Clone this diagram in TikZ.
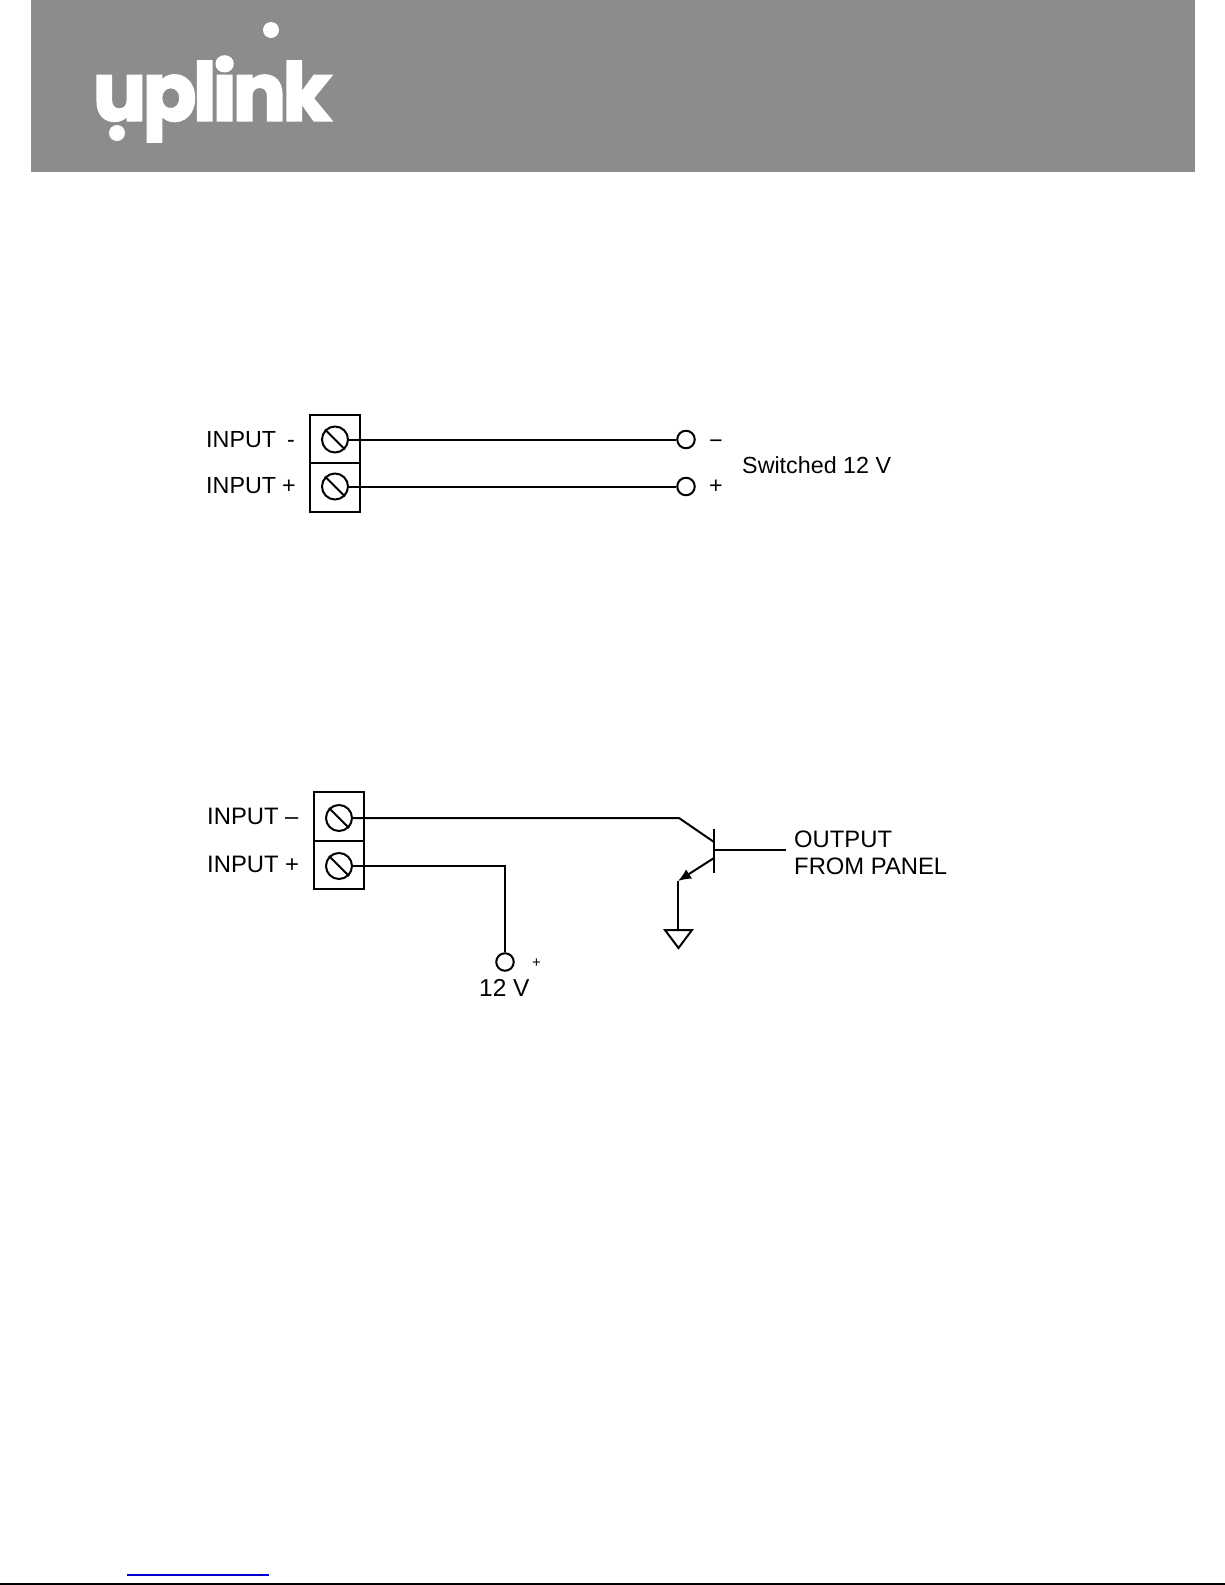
\documentclass[tikz,border=0pt]{standalone}
\usepackage{fontspec}
\usepackage{tikz}
\usetikzlibrary{positioning,arrows.meta,arrows}
\setmainfont{Liberation Sans}
\newfontfamily\logofont[FakeBold=3,LetterSpace=-4]{Poppins Bold}
\definecolor{bannergray}{HTML}{8C8C8C}

\begin{document}
\begin{tikzpicture}[>=latex, x=1pt, y=-1pt]
\tikzset{
termbox/.style={
  draw,
  line width=2pt,
  minimum width=50pt,
  minimum height=48.5pt,
  inner sep=0pt
  },
screw/.style={
  draw,
  circle,
  line width=2pt,
  minimum size=26pt,
  inner sep=0pt
  },
pad/.style={
  draw,
  circle,
  line width=2pt,
  minimum size=17.5pt,
  inner sep=0pt
  },
lbl/.style={
  anchor=base west,
  inner sep=0pt,
  font=\fontsize{23.3}{24}\selectfont
  },
lblb/.style={
  lbl,
  font=\fontsize{23.8}{26.5}\selectfont
  },
wire/.style={line width=2pt}
}

\useasboundingbox (0,0) rectangle (1225,1585);

% banner
\fill[bannergray] (31,0) rectangle (1195,172);
\node (logo) [anchor=base west, inner sep=0pt, text=white, xscale=0.98, transform shape] at (93,120.5) {\fontsize{80}{80}\logofont uplink};
\fill[white] (271,30) circle (8);
\fill[white] (117,133) circle (8);

% first circuit
\node (box1) [termbox] at (335,439) {};
\node (box2) [termbox, below=-2pt of box1] {};
\node (scr1) [screw] at (335,439.5) {};
\node (scr2) [screw] at (335,486.5) {};
\node (pad1) [pad] at (686,439.5) {};
\node (pad2) [pad] at (686,486.5) {};
\node (lblm) [lbl] at (206,447) {INPUT};
\node (lblp) [lbl] at (206,493) {INPUT};
\node (lblms) [lbl] at (287,447) {-};
\node (lblps) [lbl] at (282,493) {+};
\node (padm) [lbl] at (709,448) {\textminus};
\node (padp) [lbl] at (709,493) {+};
\node (swlbl) [lbl] at (742,473) {Switched 12 V};

\draw[wire] (scr1.135) -- (scr1.-45);
\draw[wire] (scr2.135) -- (scr2.-45);
\draw[wire] (scr1.east) -- (pad1.west);
\draw[wire] (scr2.east) -- (pad2.west);

% second circuit
\node (box3) [termbox] at (338.5,816.5) {};
\node (box4) [termbox, below=-2pt of box3] {};
\node (scr3) [screw] at (339,818) {};
\node (scr4) [screw] at (339,866) {};
\node (pad3) [pad] at (505,962) {};
\node (lblin) [lblb] at (207,824) {INPUT \textendash};
\node (lblip) [lblb] at (207,872) {INPUT +};
\node (lbltw) [lblb, font=\fontsize{24.5}{26}\selectfont] at (479,996) {12 V};
\node (lblpl) [lbl, font=\fontsize{15}{16}\selectfont] at (532,967) {+};
\node (lblout) [lblb, align=left, anchor=north west] at (794,831) {OUTPUT\\FROM PANEL};

% transistor
\coordinate (collin) at (679,818);
\coordinate (collout) at (714,842);
\coordinate (basetop) at (714,829);
\coordinate (basebot) at (714,873);
\coordinate (basein) at (714,850);
\coordinate (baseout) at (786,850);
\coordinate (emitin) at (714,858);
\coordinate (emitout) at (678,881);
\coordinate (gnd) at (678,930);
\coordinate (gndl) at (665,930);
\coordinate (gndr) at (692,930);
\coordinate (gndtip) at (678.5,948);

\draw[wire] (scr3.135) -- (scr3.-45);
\draw[wire] (scr4.135) -- (scr4.-45);
\draw[wire] (scr3.east) -- (collin) -- (collout);
\draw[wire] (scr4.east) -| (pad3.north);
\draw[wire] (basetop) -- (basebot);
\draw[wire] (basein) -- (baseout);
\draw[wire, -{Latex[length=13pt,width=11pt]}] (emitin) -- (emitout);
\draw[wire] (emitout) -- (gnd);
\draw[wire, line join=miter] (gndl) -- (gndr) -- (gndtip) -- cycle;

% page foot
\coordinate (linkl) at (127,1575);
\coordinate (linkr) at (269,1575);
\coordinate (footl) at (0,1584);
\coordinate (footr) at (1225,1584);
\draw[blue!80!black, line width=1.5pt] (linkl) -- (linkr);
\draw[line width=1.5pt] (footl) -- (footr);

\end{tikzpicture}
\end{document}
